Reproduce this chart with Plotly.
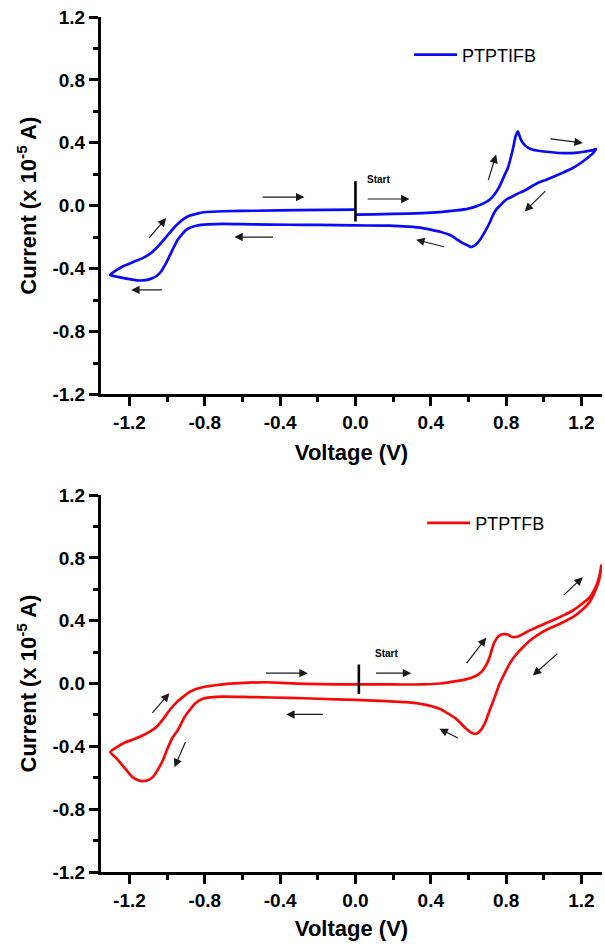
import plotly.graph_objects as go

# ---------------- data ----------------
# PTPTIFB cyclic voltammogram: start at 0 V, sweep to +1.28 V, back to -1.30 V, return to 0 V
ptptifb_v = [
    0.00, 0.10, 0.20, 0.357, 0.45, 0.535, 0.60, 0.641, 0.68, 0.712, 0.74, 0.765, 0.79, 0.809,
    0.835, 0.850, 0.862, 0.875, 0.889, 0.915, 0.942, 1.00, 1.10, 1.18, 1.225, 1.255, 1.278,
    1.265, 1.243, 1.20, 1.154, 1.10, 1.013, 0.96, 0.906, 0.85, 0.80, 0.775, 0.747, 0.73, 0.712,
    0.69, 0.667, 0.645, 0.623, 0.61, 0.595, 0.57, 0.535, 0.499, 0.45, 0.40, 0.357, 0.28, 0.18,
    0.00, -0.20, -0.35, -0.55, -0.705, -0.78, -0.82, -0.846, -0.875, -0.899, -0.92, -0.944,
    -0.965, -0.988, -1.01, -1.032, -1.055, -1.076, -1.10, -1.13, -1.16, -1.20, -1.25, -1.303,
    -1.27, -1.236, -1.18, -1.13, -1.09, -1.058, -1.02, -0.988, -0.96, -0.935, -0.91, -0.882,
    -0.84, -0.793, -0.70, -0.527, -0.30, 0.00,
]
ptptifb_i = [
    -0.057, -0.055, -0.052, -0.047, -0.040, -0.030, -0.018, -0.004, 0.015, 0.038, 0.075, 0.123,
    0.19, 0.24, 0.356, 0.44, 0.473, 0.43, 0.399, 0.37, 0.356, 0.345, 0.335, 0.338, 0.346, 0.352,
    0.361,
    0.34, 0.314, 0.275, 0.24, 0.21, 0.166, 0.14, 0.102, 0.07, 0.038, 0.01, -0.025, -0.06, -0.11,
    -0.16, -0.206, -0.24, -0.259, -0.262, -0.252, -0.238, -0.21, -0.185, -0.165, -0.152, -0.142,
    -0.133, -0.127, -0.125, -0.122, -0.121, -0.118, -0.115, -0.118, -0.122, -0.127, -0.138,
    -0.153, -0.18, -0.216, -0.265, -0.322, -0.375, -0.418, -0.445, -0.46, -0.47, -0.475, -0.474,
    -0.467, -0.455, -0.44,
    -0.41, -0.386, -0.358, -0.333, -0.305, -0.27, -0.22, -0.174, -0.135, -0.106, -0.082, -0.064,
    -0.05, -0.04, -0.035, -0.032, -0.028, -0.025,
]

# PTPTFB cyclic voltammogram
ptptfb_v = [
    0.018, 0.20, 0.357, 0.45, 0.535, 0.59, 0.623, 0.655, 0.676, 0.695, 0.712, 0.725, 0.738,
    0.755, 0.774, 0.79, 0.809, 0.822, 0.835, 0.862, 0.90, 0.942, 1.00, 1.066, 1.11, 1.154, 1.20,
    1.243, 1.27, 1.287, 1.298, 1.305,
    1.300, 1.293, 1.275, 1.243, 1.20, 1.154, 1.11, 1.066, 1.02, 0.977, 0.93, 0.889, 0.85, 0.818,
    0.79, 0.765, 0.74, 0.712, 0.69, 0.676, 0.655, 0.641, 0.625, 0.605, 0.588, 0.56, 0.535, 0.49,
    0.446, 0.36, 0.269, 0.13, 0.0, -0.2, -0.35, -0.55, -0.705, -0.77, -0.811, -0.85, -0.882,
    -0.908, -0.944, -0.97, -1.0, -1.023, -1.05, -1.076, -1.10, -1.13, -1.16, -1.183, -1.21,
    -1.236, -1.27, -1.301,
    -1.26, -1.218, -1.17, -1.13, -1.09, -1.058, -1.02, -0.988, -0.95, -0.917, -0.882, -0.846,
    -0.793, -0.70, -0.616, -0.474, -0.36, -0.262, -0.1, 0.018,
]
ptptfb_i = [
    -0.006, -0.006, -0.006, 0.0, 0.015, 0.028, 0.04, 0.06, 0.083, 0.12, 0.167, 0.22, 0.263,
    0.295, 0.312, 0.315, 0.312, 0.302, 0.295, 0.299, 0.322, 0.348, 0.378, 0.412, 0.437, 0.465,
    0.505, 0.549, 0.60, 0.65, 0.70, 0.751,
    0.70, 0.656, 0.595, 0.518, 0.465, 0.422, 0.395, 0.369, 0.345, 0.316, 0.277, 0.231, 0.18,
    0.125, 0.06, -0.002, -0.085, -0.172, -0.245, -0.278, -0.31, -0.32, -0.318, -0.305, -0.288,
    -0.255, -0.225, -0.19, -0.161, -0.133, -0.119, -0.11, -0.104, -0.097, -0.091, -0.087,
    -0.083, -0.088, -0.097, -0.125, -0.172, -0.215, -0.299, -0.342, -0.42, -0.49, -0.55, -0.596,
    -0.615, -0.622, -0.612, -0.596, -0.56, -0.522, -0.475, -0.437,
    -0.40, -0.373, -0.352, -0.331, -0.305, -0.278, -0.225, -0.172, -0.12, -0.087, -0.055,
    -0.035, -0.019, -0.005, 0.002, 0.008, 0.002, -0.002, -0.005, -0.006,
]

# scan-direction arrows: (tail V, tail I, head V, head I)
ptptifb_arrows = [
    (-0.501, 0.055, -0.271, 0.055),
    (0.057, 0.043, 0.287, 0.043),
    (0.703, 0.155, 0.747, 0.325),
    (1.027, 0.426, 1.207, 0.399),
    (1.016, 0.102, 0.898, -0.036),
    (0.478, -0.263, 0.322, -0.216),
    (-0.43, -0.199, -0.643, -0.199),
    (-1.02, -0.535, -1.191, -0.535),
    (-1.103, -0.216, -1.005, -0.078),
]
ptptfb_arrows = [
    (-0.483, 0.066, -0.253, 0.066),
    (0.101, 0.066, 0.296, 0.066),
    (0.584, 0.121, 0.694, 0.291),
    (1.098, 0.554, 1.207, 0.677),
    (1.08, 0.199, 0.942, 0.051),
    (0.552, -0.352, 0.446, -0.288),
    (-0.165, -0.197, -0.368, -0.197),
    (-1.085, -0.197, -0.988, -0.062),
    (-0.899, -0.363, -0.961, -0.533),
]

# start-potential markers: (V, I low, I high) and "Start" label anchor (V, I)
ptptifb_start = (0.0, -0.10, 0.155)
ptptifb_start_label = (0.050, 0.165)
ptptfb_start = (0.018, -0.066, 0.121)
ptptfb_start_label = (0.093, 0.193)

y_ticks = [-1.2, -0.8, -0.4, 0.0, 0.4, 0.8, 1.2]
x_ticks = [-1.2, -0.8, -0.4, 0.0, 0.4, 0.8, 1.2]

# ---------------- figure ----------------
FONT = "Liberation Sans, Arial, sans-serif"
fig = go.Figure()

fig.add_trace(go.Scatter(
    x=ptptifb_v, y=ptptifb_i, mode="lines", name="PTPTIFB",
    line=dict(color="#0b0bf5", width=2.7, shape="spline", smoothing=0.6),
    xaxis="x", yaxis="y", legend="legend",
))
fig.add_trace(go.Scatter(
    x=ptptfb_v, y=ptptfb_i, mode="lines", name="PTPTFB",
    line=dict(color="#f50a0a", width=2.7, shape="spline", smoothing=0.6),
    xaxis="x2", yaxis="y2", legend="legend2",
))

axis_common = dict(
    showline=True, linecolor="black", linewidth=3, mirror=False,
    showgrid=False, zeroline=False,
    ticks="outside", ticklen=9, tickwidth=3, tickcolor="black",
    tickfont=dict(family=FONT, size=19, color="black", weight="bold"),
    minor=dict(ticks="outside", ticklen=5, tickwidth=3, tickcolor="black", dtick=0.2),
)
xr = [-1.351, 1.309]
yr = [-1.2, 1.2]
title_font = dict(family=FONT, size=22, color="black", weight="bold")

fig.update_layout(
    width=605, height=944,
    margin=dict(l=101, r=3, t=17, b=72),
    paper_bgcolor="white", plot_bgcolor="white",
    xaxis=dict(axis_common, domain=[0, 1], range=xr, tickvals=x_ticks,
               ticktext=[f"{v:.1f}" for v in x_ticks], anchor="y",
               title=dict(text="Voltage (V)", font=title_font, standoff=13)),
    yaxis=dict(axis_common, domain=[0.5585, 1], range=yr, tickvals=y_ticks,
               ticktext=[f"{v:.1f}" for v in y_ticks], anchor="x",
               title=dict(text="Current (x 10<sup>-5</sup> A)", font=title_font, standoff=10)),
    xaxis2=dict(axis_common, domain=[0, 1], range=xr, tickvals=x_ticks,
                ticktext=[f"{v:.1f}" for v in x_ticks], anchor="y2",
                title=dict(text="Voltage (V)", font=title_font, standoff=11)),
    yaxis2=dict(axis_common, domain=[0, 0.4409], range=yr, tickvals=y_ticks,
                ticktext=[f"{v:.1f}" for v in y_ticks], anchor="x2",
                title=dict(text="Current (x 10<sup>-5</sup> A)", font=title_font, standoff=10)),
    legend=dict(x=0.615, y=0.9556, xanchor="left", yanchor="middle",
                bgcolor="rgba(0,0,0,0)", itemwidth=43,
                font=dict(family=FONT, size=18, color="black")),
    legend2=dict(x=0.641, y=0.408, xanchor="left", yanchor="middle",
                 bgcolor="rgba(0,0,0,0)", itemwidth=43,
                 font=dict(family=FONT, size=18, color="black")),
    showlegend=True,
)

# direction arrows
for arrows, xa, ya in ((ptptifb_arrows, "x", "y"), (ptptfb_arrows, "x2", "y2")):
    for tv, ti, hv, hi in arrows:
        fig.add_annotation(
            x=hv, y=hi, ax=tv, ay=ti, xref=xa, yref=ya, axref=xa, ayref=ya,
            text="", showarrow=True, arrowhead=2, arrowsize=1.4, arrowwidth=1.2,
            arrowcolor="#1a1a1a", standoff=0, startstandoff=0,
        )

# start markers and labels
for (sv, lo, hi), (lv, li), xa, ya in (
    (ptptifb_start, ptptifb_start_label, "x", "y"),
    (ptptfb_start, ptptfb_start_label, "x2", "y2"),
):
    fig.add_shape(type="line", x0=sv, x1=sv, y0=lo, y1=hi, xref=xa, yref=ya,
                  line=dict(color="black", width=2.6))
    fig.add_annotation(x=lv, y=li, xref=xa, yref=ya, text="Start", showarrow=False,
                       xanchor="left", yanchor="middle",
                       font=dict(family=FONT, size=10, color="black", weight="bold"))

fig.write_html("out.html")
